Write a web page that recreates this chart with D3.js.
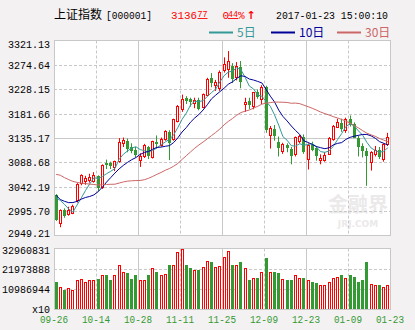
<!DOCTYPE html>
<html><head><meta charset="utf-8">
<script src="https://cdn.jsdelivr.net/npm/d3@7"></script>
<style>
html,body{margin:0;padding:0;background:#f3f1f2;}
svg{display:block;}
</style></head><body>
<svg id="c" width="415" height="330"></svg>
<script>
const dates = ["09-26","09-27","09-28","09-29","09-30","10-10","10-11","10-12","10-13","10-14",
"10-17","10-18","10-19","10-20","10-21","10-24","10-25","10-26","10-27","10-28",
"10-31","11-01","11-02","11-03","11-04","11-07","11-08","11-09","11-10","11-11",
"11-14","11-15","11-16","11-17","11-18","11-21","11-22","11-23","11-24","11-25",
"11-28","11-29","11-30","12-01","12-02","12-05","12-06","12-07","12-08","12-09",
"12-12","12-13","12-14","12-15","12-16","12-19","12-20","12-21","12-22","12-23",
"12-26","12-27","12-28","12-29","12-30","01-03","01-04","01-05","01-06","01-09",
"01-10","01-11","01-12","01-13","01-16","01-17","01-18","01-19","01-20","01-23"];
const opens = [3026,2973,2998,2990,2993,3016,3049,3054,3056,3053,
3062,3041,3088,3087,3079,3091,3126,3130,3118,3113,
3093,3100,3118,3098,3127,3122,3134,3146,3133,3168,
3190,3212,3210,3202,3208,3195,3217,3249,3236,3230,
3264,3266,3272,3252,3271,3200,3206,3196,3222,3210,
3232,3140,3153,3128,3110,3122,3115,3104,3130,3138,
3095,3122,3116,3094,3094,3105,3133,3157,3164,3150,
3171,3162,3136,3120,3111,3090,3105,3112,3096,3123];
const highs = [3028,2999,3001,3004,3008,3049,3066,3063,3067,3070,
3064,3085,3094,3090,3092,3135,3136,3134,3125,3118,
3106,3124,3120,3130,3140,3136,3150,3150,3172,3198,
3218,3215,3212,3212,3212,3220,3250,3259,3246,3264,
3289,3301,3278,3280,3282,3212,3212,3223,3228,3236,
3235,3158,3160,3138,3126,3125,3118,3138,3141,3142,
3125,3128,3120,3104,3108,3137,3160,3172,3172,3174,
3178,3165,3140,3125,3116,3110,3120,3118,3125,3145];
const lows = [2977,2965,2983,2987,2990,3012,3045,3046,3050,3050,
3033,3038,3076,3076,3072,3088,3118,3108,3106,3098,
3080,3097,3095,3096,3115,3119,3130,3093,3130,3165,
3185,3200,3195,3192,3188,3192,3215,3232,3225,3225,
3260,3250,3240,3245,3230,3185,3190,3190,3210,3200,
3145,3115,3130,3100,3105,3108,3085,3100,3125,3105,
3075,3110,3092,3085,3090,3103,3130,3155,3147,3145,
3157,3135,3100,3098,3044,3073,3100,3095,3090,3120];
const closes = [2980.43,2998.17,2987.86,2998.48,3004.70,3048.14,3065.25,3058.50,3061.35,3063.81,
3041.17,3083.88,3084.72,3084.46,3090.94,3128.25,3131.94,3116.31,3112.35,3104.27,
3100.49,3122.44,3102.73,3128.94,3125.32,3133.33,3147.89,3128.37,3171.28,3196.04,
3210.37,3206.99,3205.06,3208.45,3192.86,3218.15,3248.35,3241.14,3241.74,3261.94,
3277.00,3282.92,3250.03,3273.31,3243.84,3204.71,3199.65,3222.24,3215.37,3232.88,
3152.97,3155.04,3140.53,3117.68,3122.98,3118.08,3102.88,3137.43,3139.56,3110.15,
3122.57,3114.66,3102.24,3096.10,3103.64,3135.92,3158.79,3165.41,3154.32,3171.24,
3161.67,3136.75,3119.29,3112.76,3103.43,3108.77,3113.01,3101.30,3123.14,3136.77];
const volumes = [14800000,12400000,10600000,11700000,10300000,16000000,16400000,14600000,15700000,15700000,
16600000,18400000,18400000,16200000,18900000,24300000,20500000,19600000,16300000,18400000,
15700000,16200000,18400000,22500000,20000000,18400000,19300000,24300000,24300000,31200000,
32960831,24300000,22200000,21600000,21100000,23200000,26300000,25400000,23200000,23600000,
28100000,31700000,24300000,23800000,25900000,22500000,16200000,17100000,17100000,20500000,
27600000,20000000,20500000,19500000,16600000,15700000,16200000,18900000,17100000,16800000,
15700000,14800000,14200000,13500000,13500000,14800000,17100000,17800000,18400000,17100000,
18400000,17800000,15100000,15700000,25900000,14000000,13500000,13000000,12400000,13500000];
// closes of the 29 sessions before 09-26, needed for the moving averages
const priorCloses = [3050.67,3125.20,3110.04,3109.04,3104.11,3108.10,3084.81,3089.71,3085.88,3068.33,
3070.31,3070.03,3074.68,3085.49,3063.31,3067.35,3072.10,3090.71,3091.93,3095.95,
3078.85,3021.98,3023.51,3002.85,3026.05,3023.00,3025.87,3042.31,3033.90];
const priceTicks = [2949.21,2995.70,3042.19,3088.68,3135.17,3181.66,3228.15,3274.64,3321.13];
const volumeTicks = [0,10986944,21973888,32960831];
const volumeTickLabels = ["x10","10986944","21973888","32960831"];
const xLabelDates = ["09-26","10-14","10-28","11-11","11-25","12-09","12-23","01-09","01-23"];
const maPeriods = [5,10,30];
const maNames = ["5日","10日","30日"];
const maColors = ["#339999","#000099","#cc6666"];
const UP = "#ff0000", DOWN = "#339933", GRID = "#c8c8c8";

const svg = d3.select("#c");
const L = 54, R = 390, pT = 40.5, pB = 235.5, vT = 248.5, vB = 309.5;

const x = d3.scaleBand().domain(dates).range([L, R]).padding(0);
const cx = d => x(d) + x.bandwidth() / 2;
const y = d3.scaleLinear().domain([priceTicks[0], priceTicks[8]]).range([pB, pT]);
const yv = d3.scaleLinear().domain([0, volumeTicks[3]]).range([vB, vT]);

// plot backgrounds
svg.append("rect").attr("x", L + 0.5).attr("y", pT).attr("width", R - L).attr("height", pB - pT).attr("fill", "#fff");
svg.append("rect").attr("x", L + 0.5).attr("y", vT).attr("width", R - L).attr("height", vB - vT).attr("fill", "#fff");

// watermark
svg.append("text").attr("x", 358).attr("y", 212).attr("text-anchor", "middle")
  .attr("font-family", "Noto Sans CJK SC").attr("font-size", 20).attr("font-weight", "bold")
  .attr("fill", "#ebe9e9").text("金融界");
svg.append("text").attr("x", 358).attr("y", 227).attr("text-anchor", "middle")
  .attr("font-family", "DejaVu Sans").attr("font-size", 9).attr("font-weight", "bold")
  .attr("fill", "#ebe9e9").text("JRJ.COM");

// gridline x positions
const gx = xLabelDates.map((d, k) => k === 0 ? x(d) : x(d) + x.bandwidth());
const grid = svg.append("g").attr("stroke", GRID).attr("fill", "none");
priceTicks.slice(1, 8).forEach((t, i) => {
  const yy = Math.round(y(t)) + 0.5;
  grid.append("line").attr("x1", L).attr("x2", R).attr("y1", yy).attr("y2", yy)
    .attr("stroke-dasharray", i === 3 ? null : "3,2");
});
volumeTicks.slice(1, 3).forEach(t => {
  const yy = Math.round(yv(t)) + 0.5;
  grid.append("line").attr("x1", L).attr("x2", R).attr("y1", yy).attr("y2", yy).attr("stroke-dasharray", "3,2");
});
gx.slice(1, 8).forEach((g, k) => {
  const xx = Math.round(g) + 0.5;
  const dash = (k + 1) % 2 === 1 ? "3,2" : null;
  grid.append("line").attr("x1", xx).attr("x2", xx).attr("y1", pT).attr("y2", pB).attr("stroke-dasharray", dash);
  grid.append("line").attr("x1", xx).attr("x2", xx).attr("y1", vT).attr("y2", vB).attr("stroke-dasharray", dash);
});

// candles
const cg = svg.append("g");
dates.forEach((d, i) => {
  const up = closes[i] >= opens[i];
  const col = up ? UP : DOWN;
  const left = Math.round(cx(d) - 1.5);
  cg.append("line").attr("x1", left + 1.5).attr("x2", left + 1.5)
    .attr("y1", y(highs[i])).attr("y2", y(lows[i])).attr("stroke", col);
  const top = y(Math.max(opens[i], closes[i])), bot = y(Math.min(opens[i], closes[i]));
  if (up) {
    cg.append("rect").attr("x", left + 0.5).attr("y", Math.round(top) + 0.5).attr("width", 2)
      .attr("height", Math.max(1, Math.round(bot) - Math.round(top))).attr("fill", "#fff").attr("stroke", col);
  } else {
    cg.append("rect").attr("x", left).attr("y", Math.round(top)).attr("width", 3)
      .attr("height", Math.max(1, Math.round(bot) - Math.round(top) + 1)).attr("fill", col);
  }
  // volume
  const vy = Math.round(yv(volumes[i]));
  if (up) {
    cg.append("rect").attr("x", left + 0.5).attr("y", vy + 0.5).attr("width", 2)
      .attr("height", Math.round(vB) - vy - 1).attr("fill", "#fff").attr("stroke", col);
  } else {
    cg.append("rect").attr("x", left).attr("y", vy).attr("width", 3)
      .attr("height", Math.round(vB) - vy).attr("fill", col);
  }
});

// moving averages
const allCloses = priorCloses.concat(closes);
const off = priorCloses.length;
maPeriods.forEach((n, k) => {
  const vals = dates.map((d, i) => d3.mean(allCloses.slice(off + i - n + 1, off + i + 1)));
  svg.append("path").datum(vals)
    .attr("d", d3.line().x((v, i) => cx(dates[i])).y(v => y(v)))
    .attr("fill", "none").attr("stroke", maColors[k]).attr("stroke-width", 1);
});

// borders
svg.append("rect").attr("x", L + 0.5).attr("y", pT).attr("width", R - L).attr("height", pB - pT)
  .attr("fill", "none").attr("stroke", GRID);
svg.append("rect").attr("x", L + 0.5).attr("y", vT).attr("width", R - L).attr("height", vB - vT)
  .attr("fill", "none").attr("stroke", GRID);

// axis labels
const mono = "Liberation Mono, DejaVu Sans Mono, monospace";
const lab = svg.append("g").attr("font-family", mono).attr("font-size", 11).attr("fill", "#000");
priceTicks.forEach((t, i) => {
  let yy = y(t);
  if (i === 8) yy += 3; if (i === 0) yy -= 3;
  const s = t.toFixed(2);
  lab.append("text").attr("x", 50).attr("y", yy + 4).attr("text-anchor", "end")
    .attr("textLength", s.length * 6).attr("lengthAdjust", "spacingAndGlyphs").text(s);
});
volumeTicks.forEach((t, i) => {
  let yy = yv(t);
  if (i === 3) yy += 1; if (i === 0) yy -= 1;
  const s = volumeTickLabels[i];
  lab.append("text").attr("x", 50).attr("y", yy + 4).attr("text-anchor", "end")
    .attr("textLength", s.length * 6).attr("lengthAdjust", "spacingAndGlyphs").text(s);
});
xLabelDates.forEach((d, k) => {
  lab.append("text").attr("x", gx[k]).attr("y", 323).attr("text-anchor", "middle").attr("fill", "#339933")
    .attr("textLength", 28).attr("lengthAdjust", "spacingAndGlyphs").text(d);
});

// header
const hd = svg.append("g");
hd.append("text").attr("x", 54).attr("y", 19).attr("font-family", "Noto Sans CJK SC").attr("font-size", 12)
  .attr("fill", "#000").text("上证指数");
hd.append("text").attr("x", 106).attr("y", 19).attr("font-family", mono).attr("font-size", 11)
  .attr("fill", "#000").attr("textLength", 46).attr("lengthAdjust", "spacingAndGlyphs").text("[000001]");
const lastClose = closes[closes.length - 1], prevClose = closes[closes.length - 2];
const [ip, dp] = lastClose.toFixed(2).split(".");
hd.append("text").attr("x", 171).attr("y", 19).attr("font-family", mono).attr("font-size", 11).attr("fill", UP)
  .attr("textLength", 26).attr("lengthAdjust", "spacingAndGlyphs").text(ip);
hd.append("text").attr("x", 197.5).attr("y", 17).attr("font-family", mono).attr("font-size", 9).attr("fill", UP)
  .attr("text-decoration", "underline").attr("textLength", 10).attr("lengthAdjust", "spacingAndGlyphs").text(dp);
const pct = ((lastClose - prevClose) / prevClose * 100).toFixed(2);
const [pi, pd] = pct.split(".");
hd.append("text").attr("x", 222.5).attr("y", 19).attr("font-family", mono).attr("font-size", 11).attr("fill", UP).text(pi);
hd.append("text").attr("x", 228).attr("y", 17).attr("font-family", mono).attr("font-size", 9).attr("fill", UP)
  .attr("text-decoration", "underline").attr("textLength", 10).attr("lengthAdjust", "spacingAndGlyphs").text(pd);
hd.append("text").attr("x", 238).attr("y", 19).attr("font-family", mono).attr("font-size", 11).attr("fill", UP).text("%");
hd.append("text").attr("x", 251).attr("y", 19).attr("text-anchor", "middle").attr("font-family", "DejaVu Sans")
  .attr("font-size", 11).attr("font-weight", "bold").attr("fill", UP).text("↑");
hd.append("text").attr("x", 276).attr("y", 19).attr("font-family", mono).attr("font-size", 11).attr("fill", "#000")
  .attr("textLength", 112).attr("lengthAdjust", "spacingAndGlyphs").text("2017-01-" + dates[79].slice(3) + " 15:00:10");

// legend
const legX = [209, 271, 337];
maNames.forEach((nm, k) => {
  hd.append("line").attr("x1", legX[k]).attr("x2", legX[k] + 24).attr("y1", 32.5).attr("y2", 32.5)
    .attr("stroke", maColors[k]).attr("stroke-width", 2);
  hd.append("text").attr("x", legX[k] + 28).attr("y", 37).attr("font-family", "Noto Sans CJK SC, " + mono)
    .attr("font-size", 12).attr("fill", maColors[k]).text(nm);
});
</script>
</body></html>
